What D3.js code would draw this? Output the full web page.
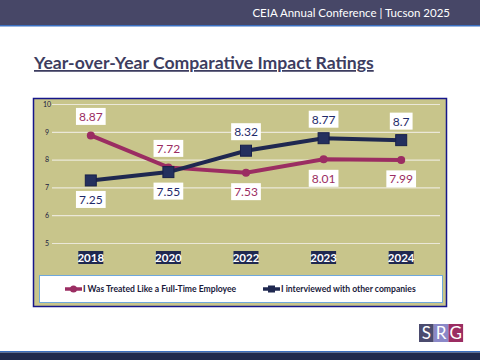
<!doctype html>
<html lang="en">
<head>
  <meta charset="utf-8">
  <title>Year-over-Year Comparative Impact Ratings</title>
  <script src="https://d3js.org/d3.v7.min.js"></script>
  <style>
    body { margin: 0; background: #fff; }
    svg { display: block; font-family: Lato, "Open Sans", sans-serif; }
  </style>
</head>
<body>
<div class="chart-container"></div>
<script>
  const years = ['2018', '2020', '2022', '2023', '2024'];
  const treated = [8.87, 7.72, 7.53, 8.01, 7.99];
  const interviewed = [7.25, 7.55, 8.32, 8.77, 8.7];
  const yTicks = [5, 6, 7, 8, 9, 10];
  const seriesNames = ['I Was Treated Like a Full-Time Employee', 'I interviewed with other companies'];
  // label above (-1) or below (+1) the point
  const treatedPos = [-1, -1, 1, 1, 1];
  const interviewedPos = [1, 1, -1, -1, -1];

  const width = 480;
  const height = 360;
  const magenta = '#9b2d62';
  const navy = '#1f2850';

  const svg = d3.select('.chart-container').append('svg')
    .attr('width', width)
    .attr('height', height);

  // header band
  svg.append('rect').attr('x', 0).attr('y', 0).attr('width', width).attr('height', 26).style('fill', '#474767');
  svg.append('rect').attr('x', 0).attr('y', 25).attr('width', width).attr('height', 1.5).style('fill', '#3a6fc0');
  svg.append('text')
    .attr('x', 450).attr('y', 17)
    .style('text-anchor', 'end')
    .style('fill', '#fff')
    .style('font-size', '11.5px')
    .text('CEIA Annual Conference | Tucson 2025');

  // title
  svg.append('text')
    .attr('x', 34).attr('y', 69)
    .style('fill', '#3d3d60')
    .style('font-size', '17.6px')
    .style('font-weight', 'bold')
    .style('text-decoration', 'underline')
    .text('Year-over-Year Comparative Impact Ratings');

  // chart frame
  svg.append('rect')
    .attr('x', 33.5).attr('y', 98.5).attr('width', 413).attr('height', 208)
    .style('fill', '#c8c58b')
    .style('stroke', '#16168a')
    .style('stroke-width', 1.5);

  const x = d3.scaleBand().domain(years).range([52, 440]);
  const cx = d => x(d) + x.bandwidth() / 2;
  const y = d3.scaleLinear().domain([5, 10]).range([243, 104]);

  const yAxis = d3.axisLeft(y)
    .tickValues(yTicks)
    .tickSize(-(440 - 52))
    .tickPadding(4)
    .tickFormat(d3.format('d'));

  const gy = svg.append('g')
    .attr('transform', 'translate(52,0)')
    .call(yAxis);
  gy.select('.domain').remove();
  gy.selectAll('.tick line').style('stroke', '#ebe8d8').style('stroke-width', 1.2);
  gy.selectAll('.tick text')
    .attr('x', -5)
    .style('text-anchor', 'middle')
    .style('font-size', '7px')
    .style('fill', '#1a1a40')
    .style('font-family', 'Lato, sans-serif');

  // x category labels on dark boxes
  const xl = svg.append('g').selectAll('g.xlab').data(years).enter().append('g').attr('class', 'xlab');
  xl.append('rect')
    .attr('x', d => cx(d) - 12.5).attr('y', 251)
    .attr('width', 25).attr('height', 13)
    .style('fill', navy);
  xl.append('text')
    .attr('x', d => cx(d)).attr('y', 261.5)
    .style('text-anchor', 'middle')
    .style('fill', '#fff')
    .style('font-size', '11.5px')
    .style('font-weight', 'bold')
    .text(d => d);

  const line = d3.line().x((d, i) => cx(years[i])).y(d => y(d));

  // treated series
  svg.append('path').datum(treated).attr('d', line)
    .style('fill', 'none').style('stroke', magenta).style('stroke-width', 4);
  svg.selectAll('circle.treated').data(treated).enter().append('circle')
    .attr('class', 'treated')
    .attr('cx', (d, i) => cx(years[i])).attr('cy', d => y(d)).attr('r', 4)
    .style('fill', magenta);

  // interviewed series
  svg.append('path').datum(interviewed).attr('d', line)
    .style('fill', 'none').style('stroke', navy).style('stroke-width', 4);
  svg.selectAll('rect.interviewed').data(interviewed).enter().append('rect')
    .attr('class', 'interviewed')
    .attr('x', (d, i) => cx(years[i]) - 5.5).attr('y', d => y(d) - 5.5)
    .attr('width', 11).attr('height', 11)
    .style('fill', '#24305e').style('stroke', '#18204a').style('stroke-width', 1);

  function dataLabels(values, pos, color) {
    const g = svg.append('g').selectAll('g').data(values).enter().append('g');
    g.each(function (d, i) {
      const lx = cx(years[i]);
      const ly = y(d) + pos[i] * 19;
      const el = d3.select(this);
      const t = el.append('text')
        .attr('x', lx).attr('y', ly + 4.5)
        .style('text-anchor', 'middle')
        .style('fill', color)
        .style('font-size', '12px')
        .text(d);
      const w = t.node().getComputedTextLength();
      el.insert('rect', 'text')
        .attr('x', lx - w / 2 - 3).attr('y', ly - 8.5)
        .attr('width', w + 6).attr('height', 17)
        .style('fill', '#fff');
    });
  }
  dataLabels(treated, treatedPos, magenta);
  dataLabels(interviewed, interviewedPos, '#1f2a6a');

  // legend
  svg.append('rect')
    .attr('x', 39.5).attr('y', 275.5).attr('width', 403).attr('height', 27)
    .style('fill', '#fff').style('stroke', '#6fa8dc').style('stroke-width', 1);

  const legend = [
    { name: seriesNames[0], color: magenta, x: 65, shape: 'circle' },
    { name: seriesNames[1], color: navy, x: 263, shape: 'rect' }
  ];
  const lg = svg.append('g').selectAll('g').data(legend).enter().append('g');
  lg.append('line')
    .attr('x1', d => d.x).attr('x2', d => d.x + 17)
    .attr('y1', 289).attr('y2', 289)
    .style('stroke', d => d.color).style('stroke-width', 3.5);
  lg.filter(d => d.shape === 'circle').append('circle')
    .attr('cx', d => d.x + 8.5).attr('cy', 289).attr('r', 3.5)
    .style('fill', d => d.color);
  lg.filter(d => d.shape === 'rect').append('rect')
    .attr('x', d => d.x + 5).attr('y', 285.5).attr('width', 7).attr('height', 7)
    .style('fill', d => d.color);
  lg.append('text')
    .attr('x', d => d.x + 18).attr('y', 292)
    .style('fill', '#1a1a3a')
    .style('font-size', '8.6px')
    .style('font-weight', 'bold')
    .text(d => d.name);

  // logo
  const logo = [
    { letter: 'S', color: '#4b4b6e' },
    { letter: 'R', color: '#8a88c8' },
    { letter: 'G', color: '#9b2d62' }
  ];
  const lo = svg.append('g').selectAll('g').data(logo).enter().append('g');
  lo.append('rect')
    .attr('x', (d, i) => 419 + i * 14.7).attr('y', 324)
    .attr('width', 14.7).attr('height', 18)
    .style('fill', d => d.color);
  lo.append('text')
    .attr('x', (d, i) => 419 + i * 14.7 + 7.35).attr('y', 339)
    .style('text-anchor', 'middle')
    .style('fill', '#fff')
    .style('font-size', '17px')
    .text(d => d.letter);

  // bottom band
  svg.append('rect').attr('x', 0).attr('y', 351).attr('width', width).attr('height', 1.5).style('fill', '#3a6fc0');
  svg.append('rect').attr('x', 0).attr('y', 352.5).attr('width', width).attr('height', 8).style('fill', '#1f2a4e');
</script>
</body>
</html>
